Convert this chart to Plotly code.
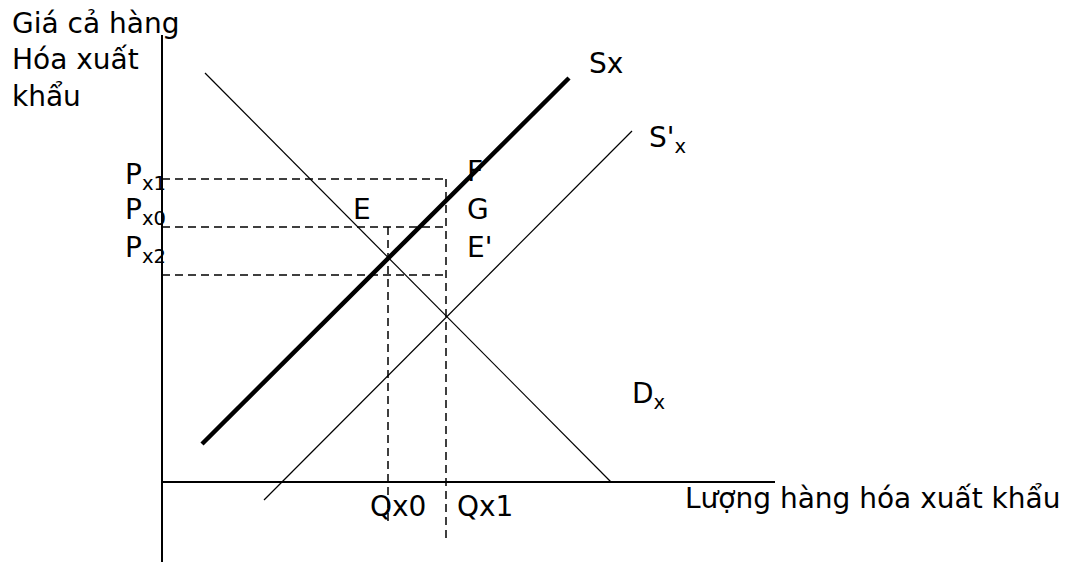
import plotly.graph_objects as go

# Economic diagram values (origin at the axes intersection; q = quantity, p = price)
dx_q = [43, 449]          # demand Dx
dx_p = [409, 0]
sx_q = [40, 407]          # supply Sx (thick)
sx_p = [38, 404]
sx2_q = [102, 470]        # supply S'x
sx2_p = [-18, 351]
price_levels = {"Px1": 303, "Px0": 255, "Px2": 207}
qty_levels = {"Qx0": 226, "Qx1": 284}
qx0_bottom = -40
qx1_bottom = -58
haxis_q = [0, 613]
vaxis_p = [-80, 447]

OX, OY = 162, 482  # pixel position of origin (layout only)


def P(x, y):
    """pixel position -> data position (layout helper for labels)"""
    return x - OX, OY - y


FONT = "DejaVu Sans"
FS = 28

fig = go.Figure()

def line(xs, ys, width=1.2, dash=None):
    fig.add_trace(go.Scatter(x=xs, y=ys, mode="lines",
                             line=dict(color="black", width=width, dash=dash),
                             hoverinfo="skip", showlegend=False))

# axes
line(haxis_q, [0, 0], width=2)
line([0, 0], vaxis_p, width=2)

# dashed guides
DASH = "8px,5px"
line([0, qty_levels["Qx1"]], [price_levels["Px1"]] * 2, 1.5, DASH)
line([0, qty_levels["Qx1"]], [price_levels["Px0"]] * 2, 1.5, DASH)
line([0, qty_levels["Qx1"]], [price_levels["Px2"]] * 2, 1.5, DASH)
line([qty_levels["Qx0"]] * 2, [price_levels["Px0"], qx0_bottom], 1.5, DASH)
line([qty_levels["Qx1"]] * 2, [price_levels["Px1"], qx1_bottom], 1.5, DASH)

# curves
line(dx_q, dx_p, 1.2)
line(sx2_q, sx2_p, 1.2)
line(sx_q, sx_p, 4.5)

labels = [
    ("Giá cả hàng<br>Hóa xuất<br>khẩu", 10, 60),
    ("Sx", 587, 63),
    ("S'<sub>x</sub>", 647, 139),
    ("D<sub>x</sub>", 630, 395),
    ("P<sub>x1</sub>", 123, 176),
    ("P<sub>x0</sub>", 123, 211),
    ("P<sub>x2</sub>", 123, 249),
    ("F", 465, 171),
    ("E", 351, 209),
    ("G", 465, 209),
    ("E'", 465, 247),
    ("Qx0", 368, 506),
    ("Qx1", 455, 506),
    ("Lượng hàng hóa xuất khẩu", 683, 498),
]
for txt, px, py in labels:
    ax_, ay_ = P(px, py)
    fig.add_annotation(x=ax_, y=ay_, xref="x", yref="y", text=txt,
                       showarrow=False, xanchor="left", yanchor="middle",
                       align="left", font=dict(family=FONT, size=FS, color="black"))

fig.update_layout(
    width=1071, height=562, autosize=False,
    margin=dict(l=0, r=0, t=0, b=0),
    paper_bgcolor="white", plot_bgcolor="white",
    xaxis=dict(range=[-OX, 1071 - OX], visible=False, fixedrange=True),
    yaxis=dict(range=[OY - 562, OY], visible=False, fixedrange=True),
)
fig.write_html("out.html",
               config={"displayModeBar": False, "staticPlot": True},
               post_script="document.body.style.margin='0';document.body.style.overflow='hidden';")
